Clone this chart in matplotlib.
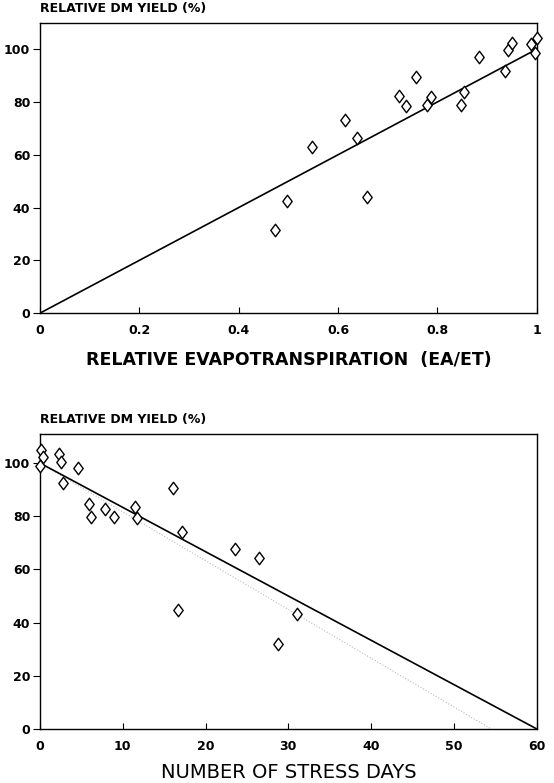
import numpy as np
import matplotlib.pyplot as plt
from matplotlib.path import Path

# relative ET vs relative yield (upper panel)
et_rel = [0.473, 0.498, 0.548, 0.613, 0.639, 0.658, 0.722, 0.737, 0.757, 0.779,
          0.787, 0.847, 0.854, 0.883, 0.935, 0.942, 0.950, 0.989, 0.996, 1.0]
yield_et = [31.6, 42.3, 63.1, 73.2, 66.5, 43.9, 82.4, 78.3, 89.6, 78.9,
            81.7, 78.8, 83.7, 97.2, 91.8, 99.5, 102.5, 101.9, 98.5, 104.2]

# stress days vs relative yield (lower panel)
stress_days = [0.1, 0.4, 0.0, 2.3, 2.5, 2.8, 4.6, 5.9, 6.2, 7.9, 8.9,
               11.5, 11.7, 16.1, 16.7, 17.1, 23.5, 26.5, 28.7, 31.1]
yield_sd = [104.9, 102.4, 98.9, 103.4, 100.3, 92.4, 98.1, 84.6, 79.6, 82.6, 79.8,
            83.6, 79.2, 90.5, 44.8, 74.1, 67.5, 64.3, 31.8, 43.3]

# fitted lines
fit_et_x = [0.0, 1.0]
fit_et_y = [0.0, 100.0]
fit_sd_x = [0.0, 60.0]
fit_sd_y = [100.0, 0.0]
fit_sd2_x = [0.0, 54.5]
fit_sd2_y = [100.0, 0.0]

# rombo algo más ancho que el 'd' de matplotlib
rombo = Path([(0, 1), (0.75, 0), (0, -1), (-0.75, 0), (0, 1)],
             [Path.MOVETO, Path.LINETO, Path.LINETO, Path.LINETO, Path.CLOSEPOLY])

fig = plt.figure(figsize=(5.54, 7.83), dpi=100)
ax1 = fig.add_axes([0.072, 0.600, 0.897, 0.371])
ax2 = fig.add_axes([0.072, 0.069, 0.897, 0.377])


def estilo(ax, xmax, ymax, xticks, xlabels):
    ax.set_xlim(0, xmax)
    ax.set_ylim(0, ymax)
    ax.set_xticks(xticks)
    ax.set_xticklabels(xlabels)
    ax.set_yticks([0, 20, 40, 60, 80, 100])
    ax.tick_params(axis='x', direction='in', length=4, width=0.8, pad=8)
    ax.tick_params(axis='y', direction='out', length=5, width=0.8, pad=2)
    for lab in ax.get_xticklabels() + ax.get_yticklabels():
        lab.set_fontweight('bold')
        lab.set_fontsize(9)
    for s in ax.spines.values():
        s.set_linewidth(1.0)


# panel superior
ax1.plot(fit_et_x, fit_et_y, color='black', lw=1.2, zorder=2)
ax1.plot(et_rel, yield_et, linestyle='none', marker=rombo, markersize=9,
         mfc='white', mec='black', mew=1.0, zorder=3, clip_on=False)
estilo(ax1, 1.0, 110, [0, 0.2, 0.4, 0.6, 0.8, 1.0],
       ['0', '0.2', '0.4', '0.6', '0.8', '1'])
ax1.set_xlabel('RELATIVE EVAPOTRANSPIRATION  (EA/ET)', fontsize=12.5,
               fontweight='bold', labelpad=10)
ax1.text(0.0, 1.025, 'RELATIVE DM YIELD (%)', transform=ax1.transAxes,
         fontsize=9, fontweight='bold', ha='left', va='bottom')

# panel inferior
ax2.plot(fit_sd2_x, fit_sd2_y, color='#bbbbbb', lw=0.8, ls=':', zorder=1)
ax2.plot(fit_sd_x, fit_sd_y, color='black', lw=1.2, zorder=2)
ax2.plot(stress_days, yield_sd, linestyle='none', marker=rombo, markersize=9,
         mfc='white', mec='black', mew=1.0, zorder=3, clip_on=False)
estilo(ax2, 60, 111, [0, 10, 20, 30, 40, 50, 60],
       ['0', '10', '20', '30', '40', '50', '60'])
ax2.set_xlabel('NUMBER OF STRESS DAYS', fontsize=14, labelpad=7)
ax2.text(0.0, 1.025, 'RELATIVE DM YIELD (%)', transform=ax2.transAxes,
         fontsize=9, fontweight='bold', ha='left', va='bottom')

fig.savefig('out.png', dpi=100)
